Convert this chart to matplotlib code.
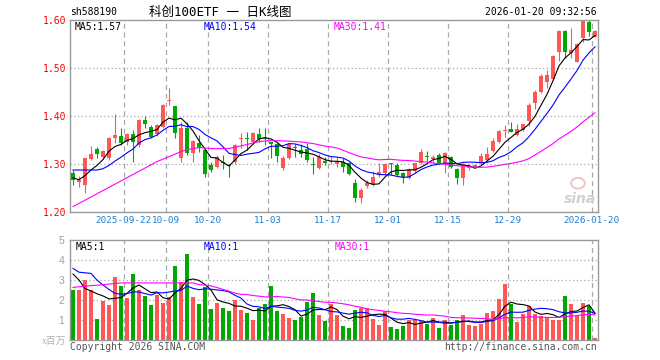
import numpy as np
import pandas as pd
import matplotlib
matplotlib.use("Agg")
import matplotlib.pyplot as plt
from matplotlib.patches import Ellipse
from matplotlib.transforms import blended_transform_factory

# Daily K-line data, 2025-09-09 .. 2026-01-20 (88 trading days)
open_ = [1.2806, 1.2615, 1.2563, 1.3110, 1.3313, 1.3153, 1.3118, 1.3535, 1.3583, 1.3450,
         1.3618, 1.3396, 1.3917, 1.3778, 1.3620, 1.3778, 1.4320, 1.4215, 1.3118, 1.3743,
         1.3236, 1.3430, 1.3290, 1.2980, 1.2944, 1.3049, 1.2980, 1.3035, 1.3520, 1.3535,
         1.3465, 1.3625, 1.3549, 1.3451, 1.3417, 1.2910, 1.3132, 1.3340, 1.3285, 1.3306,
         1.2990, 1.2924, 1.3063, 1.3050, 1.2993, 1.3049, 1.3014, 1.2597, 1.2285, 1.2540,
         1.2569, 1.2771, 1.2806, 1.3005, 1.2986, 1.2806, 1.2701, 1.2861, 1.3028, 1.3160,
         1.3110, 1.3188, 1.2993, 1.3140, 1.2889, 1.2701, 1.2910, 1.2945, 1.3014, 1.3076,
         1.3278, 1.3465, 1.3680, 1.3729, 1.3604, 1.3715, 1.3896, 1.4264, 1.4507, 1.4715,
         1.4770, 1.5340, 1.5778, 1.5306, 1.5131, 1.5625, 1.5951, 1.5652]
high = [1.2875, 1.2750, 1.3132, 1.3380, 1.3360, 1.3300, 1.3569, 1.4040, 1.3740, 1.3650,
        1.3708, 1.3930, 1.4000, 1.3819, 1.3840, 1.4257, 1.4590, 1.4215, 1.3868, 1.3882,
        1.3500, 1.3600, 1.3300, 1.3035, 1.3188, 1.3180, 1.3000, 1.3420, 1.3640, 1.3674,
        1.3674, 1.3740, 1.3740, 1.3460, 1.3431, 1.3174, 1.3431, 1.3417, 1.3417, 1.3431,
        1.3153, 1.3200, 1.3153, 1.3170, 1.3153, 1.3118, 1.3049, 1.2680, 1.2493, 1.2667,
        1.2861, 1.3014, 1.3014, 1.3014, 1.3014, 1.2840, 1.2910, 1.3014, 1.3306, 1.3278,
        1.3188, 1.3222, 1.3257, 1.3160, 1.2910, 1.3014, 1.3000, 1.3000, 1.3236, 1.3347,
        1.3535, 1.3708, 1.3813, 1.3868, 1.3840, 1.3840, 1.4264, 1.4542, 1.4868, 1.4958,
        1.5271, 1.5790, 1.5799, 1.5827, 1.5514, 1.6000, 1.6000, 1.5800]
low = [1.2560, 1.2520, 1.2403, 1.3090, 1.3118, 1.3100, 1.3083, 1.3430, 1.3396, 1.3396,
       1.3049, 1.3360, 1.3740, 1.3535, 1.3580, 1.3757, 1.4230, 1.3535, 1.3049, 1.3188,
       1.3035, 1.3257, 1.2736, 1.2826, 1.2910, 1.2900, 1.2736, 1.2993, 1.3326, 1.3299,
       1.3424, 1.3465, 1.3396, 1.3118, 1.3049, 1.2875, 1.3110, 1.3153, 1.3153, 1.3049,
       1.2785, 1.2896, 1.2980, 1.2993, 1.2945, 1.2840, 1.2771, 1.2215, 1.2194, 1.2507,
       1.2535, 1.2736, 1.2771, 1.2771, 1.2757, 1.2597, 1.2680, 1.2806, 1.3000, 1.3049,
       1.3014, 1.3000, 1.2806, 1.2910, 1.2583, 1.2563, 1.2875, 1.2910, 1.2986, 1.3056,
       1.3257, 1.3431, 1.3569, 1.3660, 1.3590, 1.3680, 1.3800, 1.4146, 1.4470, 1.4590,
       1.4750, 1.5146, 1.5201, 1.5200, 1.5125, 1.5535, 1.5674, 1.5652]
close = [1.2667, 1.2660, 1.3118, 1.3205, 1.3208, 1.3270, 1.3535, 1.3604, 1.3430, 1.3620,
         1.3465, 1.3917, 1.3833, 1.3569, 1.3810, 1.4230, 1.4340, 1.3650, 1.3743, 1.3222,
         1.3480, 1.3326, 1.2785, 1.2875, 1.3153, 1.3020, 1.2965, 1.3396, 1.3550, 1.3514,
         1.3640, 1.3520, 1.3520, 1.3410, 1.3174, 1.3118, 1.3410, 1.3326, 1.3215, 1.3083,
         1.2980, 1.3153, 1.3014, 1.3070, 1.3063, 1.2931, 1.2792, 1.2285, 1.2458, 1.2610,
         1.2736, 1.2840, 1.2993, 1.2998, 1.2778, 1.2722, 1.2889, 1.3014, 1.3257, 1.3150,
         1.3140, 1.3014, 1.3236, 1.2931, 1.2701, 1.3000, 1.2958, 1.2972, 1.3167, 1.3215,
         1.3486, 1.3694, 1.3700, 1.3674, 1.3729, 1.3826, 1.4229, 1.4507, 1.4833, 1.4854,
         1.5250, 1.5778, 1.5326, 1.5375, 1.5500, 1.5979, 1.5743, 1.5771]
# volume, millions
volume = [2.50, 2.50, 3.00, 2.50, 1.05, 1.97, 1.75, 3.15, 2.70, 2.10,
          3.30, 2.50, 2.20, 1.75, 2.25, 1.87, 2.17, 3.70, 2.92, 4.30,
          2.17, 1.80, 2.67, 1.55, 1.87, 1.60, 1.47, 2.00, 1.50, 1.37,
          1.00, 1.58, 1.80, 2.70, 1.45, 1.30, 1.12, 1.00, 1.13, 1.90,
          2.35, 1.25, 0.95, 1.80, 1.25, 0.70, 0.60, 1.50, 1.58, 1.58,
          1.05, 0.75, 1.45, 0.65, 0.55, 0.70, 1.00, 1.00, 0.97, 0.80,
          1.10, 0.60, 1.00, 0.75, 1.00, 1.25, 0.75, 0.70, 0.80, 1.35,
          1.45, 2.05, 2.80, 1.80, 0.90, 1.30, 1.70, 1.30, 1.20, 1.13,
          1.00, 1.00, 2.20, 1.80, 1.25, 1.85, 1.70, 0.10]

# earlier days (off-chart), estimated from where the MA lines start
warmup_close = [1.065, 1.111, 1.120, 1.120, 1.126, 1.153, 1.159, 1.142, 1.161, 1.146,
                1.191, 1.182, 1.156, 1.180, 1.267, 1.278, 1.209, 1.218, 1.190, 1.288,
                1.266, 1.312, 1.320, 1.321, 1.300, 1.285, 1.270, 1.262, 1.272]
warmup_volume = [1.60, 2.10, 1.60, 0.60, 1.07, 0.85, 2.25, 1.80, 2.10, 3.30,
                 2.50, 2.20, 1.75, 2.25, 1.87, 2.17, 3.70, 2.92, 4.30, 2.17,
                 4.40, 3.30, 2.80, 4.40, 4.40, 4.00, 5.10, 3.15, 1.75]

tick_pos = [9, 16, 23, 33, 43, 53, 63, 73, 87]
tick_labels = ["2025-09-22", "10-09", "10-20", "11-03", "11-17",
               "12-01", "12-15", "12-29", "2026-01-20"]

RED = "#ff5656"
GREEN = "#00a800"
MONO = "DejaVu Sans Mono"
FS = 7.0

n = len(close)
x = np.arange(n)
o = np.array(open_)
c = np.array(close)
up = c >= o
colors = np.where(up, RED, GREEN)


def moving_avg(warm, vals, w):
    s = pd.Series(list(warm) + list(vals)).rolling(w).mean()
    return s.values[len(warm):]


ma5 = moving_avg(warmup_close, close, 5)
ma10 = moving_avg(warmup_close, close, 10)
ma30 = moving_avg(warmup_close, close, 30)
vma5 = moving_avg(warmup_volume, volume, 5)
vma10 = moving_avg(warmup_volume, volume, 10)
vma30 = moving_avg(warmup_volume, volume, 30)

fig = plt.figure(figsize=(6.6, 3.6), dpi=100)
ax = fig.add_axes([70 / 660, 1 - 212 / 360, 528 / 660, 192 / 360])
axv = fig.add_axes([70 / 660, 1 - 340 / 360, 528 / 660, 100 / 360])

grid_c = "#a8a8a8"
for a in (ax, axv):
    a.set_xlim(-0.5, n - 0.5)
    for p in tick_pos:
        a.axvline(p - 0.5, color=grid_c, lw=0.9, ls=(0, (4, 3)), zorder=0)
    for sp in a.spines.values():
        sp.set_color("#999999")
        sp.set_linewidth(1)
    a.set_xticks([])

# price panel
ax.set_ylim(1.2, 1.6)
for yv in [1.3, 1.4, 1.5]:
    ax.axhline(yv, color=grid_c, lw=0.9, ls=(0, (1, 2)), zorder=0)
ax.vlines(x, low, high, colors=colors, lw=0.8, zorder=2)
body_bot = np.minimum(o, c)
body_h = np.maximum(np.abs(c - o), 0.0021)
ax.bar(x, body_h, bottom=body_bot, width=0.82, color=colors, linewidth=0, zorder=3)
ax.plot(x, ma5, color="black", lw=0.8, zorder=4)
ax.plot(x, ma10, color="#0000ff", lw=0.8, zorder=4)
ax.plot(x, ma30, color="#ff00ff", lw=0.8, zorder=4)

ax.set_yticks([1.2, 1.3, 1.4, 1.5, 1.6])
ax.set_yticklabels(["%.2f" % v for v in [1.2, 1.3, 1.4, 1.5, 1.6]],
                   color="red", fontsize=FS, family=MONO)
ax.tick_params(axis="y", length=0, pad=2.5)

tr = blended_transform_factory(ax.transData, ax.transAxes)
for p, lab in zip(tick_pos, tick_labels):
    ax.text(p - 0.5, -0.045, lab, transform=tr, ha="center", va="center",
            color="#1f7fd0", fontsize=6.7, family=MONO)

ax.text(0.008, 0.966, "MA5:%.2f" % ma5[-1], transform=ax.transAxes, fontsize=FS,
        family=MONO, color="black", va="center")
ax.text(0.254, 0.966, "MA10:%.2f" % ma10[-1], transform=ax.transAxes, fontsize=FS,
        family=MONO, color="#0000ff", va="center")
ax.text(0.5, 0.966, "MA30:%.2f" % ma30[-1], transform=ax.transAxes, fontsize=FS,
        family=MONO, color="#ff00ff", va="center")

# sina watermark
ax.text(0.966, 0.07, "sina", transform=ax.transAxes, fontsize=10, fontweight="bold",
        fontstyle="italic", color="#d0d0d0", ha="center", va="center", zorder=1)
ax.add_patch(Ellipse((0.962, 0.15), 0.026, 0.055, transform=ax.transAxes,
                     fill=False, edgecolor="#f2c4c4", lw=1.4, zorder=1))

# volume panel
axv.set_ylim(0, 5)
for yv in [1, 2, 3, 4]:
    axv.axhline(yv, color=grid_c, lw=0.9, ls=(0, (1, 2)), zorder=0)
axv.bar(x, volume, width=0.82, color=colors, linewidth=0, zorder=2)
axv.plot(x, vma5, color="black", lw=0.8, zorder=4)
axv.plot(x, vma10, color="#0000ff", lw=0.8, zorder=4)
axv.plot(x, vma30, color="#ff00ff", lw=0.8, zorder=4)
axv.set_yticks([1, 2, 3, 4, 5])
axv.set_yticklabels(["1", "2", "3", "4", "5"], color="#a0a0a0", fontsize=7.5,
                    family="Liberation Sans")
axv.tick_params(axis="y", length=0, pad=4)

axv.text(0.01, 0.93, "MA5:%d" % round(vma5[-1]), transform=axv.transAxes, fontsize=FS,
         family=MONO, color="black", va="center")
axv.text(0.254, 0.93, "MA10:%d" % round(vma10[-1]), transform=axv.transAxes, fontsize=FS,
         family=MONO, color="#0000ff", va="center")
axv.text(0.502, 0.93, "MA30:%d" % round(vma30[-1]), transform=axv.transAxes, fontsize=FS,
         family=MONO, color="#ff00ff", va="center")

# header / footer text
fig.text(70 / 660, 1 - 12 / 360, "sh588190", fontsize=FS, family=MONO, va="center")
fig.text(220 / 660, 1 - 12 / 360, "科创100ETF 一 日K线图", fontsize=9,
         family=[MONO, "Noto Sans CJK SC"], ha="center", va="center")
fig.text(597 / 660, 1 - 12 / 360, "2026-01-20 09:32:56", fontsize=FS, family=MONO,
         ha="right", va="center")
fig.text(70 / 660, 1 - 347 / 360, "Copyright 2026 SINA.COM", fontsize=FS, family=MONO,
         color="#555555", va="center")
fig.text(597 / 660, 1 - 347 / 360, "http://finance.sina.com.cn", fontsize=FS, family=MONO,
         color="#555555", ha="right", va="center")
fig.text(66 / 660, 1 - 341 / 360, "x百万", fontsize=7, color="#b0b0b0",
         family=["Liberation Serif", "Noto Sans CJK SC"], ha="right", va="center")

fig.savefig("out.png", dpi=100)
